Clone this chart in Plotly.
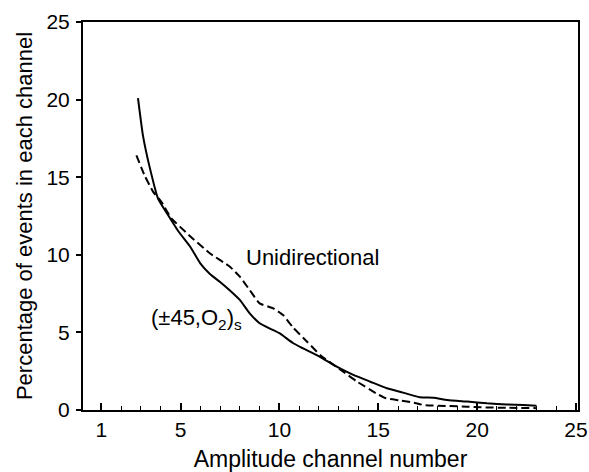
import plotly.graph_objects as go

# (±45,O2)s laminate – solid curve
cross_x = [2.85, 3.1, 3.45, 3.87, 4.4, 4.9, 5.5, 6.0, 6.5, 7.0, 7.5, 8.0, 8.5, 9.0,
           9.5, 10.0, 10.7, 11.2, 12.05, 12.9, 13.74, 14.6, 15.43, 16.1, 17.1, 17.8,
           18.5, 19.5, 20.5, 21.5, 22.35, 23.0]
cross_y = [20.1, 17.7, 15.6, 13.6, 12.5, 11.5, 10.5, 9.45, 8.75, 8.25, 7.7, 7.09, 6.23,
           5.59, 5.26, 4.95, 4.3, 3.97, 3.43, 2.79, 2.26, 1.82, 1.4, 1.18, 0.82, 0.79,
           0.64, 0.54, 0.43, 0.36, 0.32, 0.28]

# Unidirectional laminate – dashed curve
uni_x = [2.77, 3.19, 3.61, 4.04, 4.54, 5.4, 6.48, 7.5, 8.0, 8.5, 9.0, 9.69, 10.2, 10.7,
         11.4, 12.1, 13.07, 13.9, 14.9, 15.4, 16.1, 16.8, 17.3, 18.5, 19.5, 20.2, 21.5, 23.0]
uni_y = [16.4, 15.1, 14.07, 13.4, 12.35, 11.3, 10.1, 9.23, 8.59, 7.73, 6.87, 6.55, 6.1, 5.3,
         4.4, 3.5, 2.62, 1.85, 1.07, 0.75, 0.62, 0.47, 0.32, 0.26, 0.21, 0.17, 0.14, 0.12]

x_ticks = [1, 5, 10, 15, 20, 25]
y_ticks = [0, 5, 10, 15, 20, 25]

FONT = "Liberation Sans, Arial, Helvetica, sans-serif"

fig = go.Figure()
fig.add_trace(go.Scatter(x=cross_x, y=cross_y, mode="lines",
                         line=dict(color="black", width=2, shape="spline", smoothing=0.4),
                         showlegend=False))
fig.add_trace(go.Scatter(x=uni_x, y=uni_y, mode="lines",
                         line=dict(color="black", width=2, dash="8px,4px", shape="spline", smoothing=0.4),
                         showlegend=False))

fig.add_annotation(x=8.2, y=9.85, xanchor="left", yanchor="middle", showarrow=False,
                   text="Unidirectional", font=dict(size=22, color="black", family=FONT))
fig.add_annotation(x=3.4, y=5.85, xanchor="left", yanchor="middle", showarrow=False,
                   text="(±45,O<sub>2</sub>)<sub>s</sub>", font=dict(size=22, color="black", family=FONT))

fig.update_layout(
    width=589, height=472,
    margin=dict(l=83, r=11, t=22, b=62),
    paper_bgcolor="white", plot_bgcolor="white",
    font=dict(family=FONT, size=21, color="black"),
    xaxis=dict(
        range=[0.07, 25.1], tickvals=x_ticks, ticktext=[str(v) for v in x_ticks],
        ticks="inside", ticklen=7, tickwidth=1.5, tickcolor="black",
        minor=dict(dtick=1, tick0=0, ticks="inside", ticklen=4, tickwidth=1.2, tickcolor="black"),
        showgrid=False, zeroline=False,
        showline=True, linecolor="black", linewidth=2, mirror=True,
        tickfont=dict(size=21), ticklabelstandoff=0,
        title=dict(text="Amplitude channel number", font=dict(size=23), standoff=16),
        automargin=False,
    ),
    yaxis=dict(
        range=[0, 25], tickvals=y_ticks,
        ticks="outside", ticklen=5, tickwidth=1.5, tickcolor="black",
        showgrid=False, zeroline=False,
        showline=True, linecolor="black", linewidth=2, mirror=True,
        tickfont=dict(size=21), ticklabelstandoff=2,
        title=dict(text="Percentage of events in each channel", font=dict(size=22), standoff=8),
        automargin=False,
    ),
)

fig.write_html("out.html")
